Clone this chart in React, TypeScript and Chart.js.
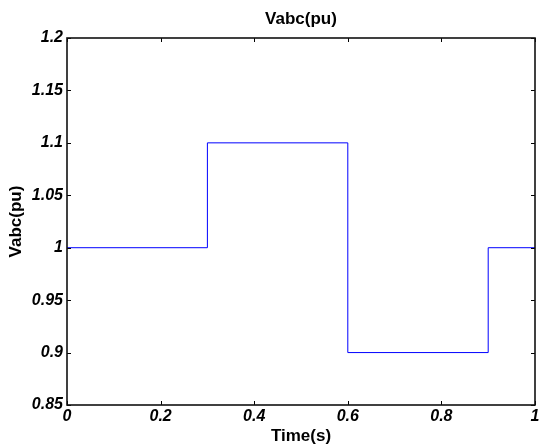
import React, { useEffect, useRef } from "react";
import { Chart, registerables } from "chart.js";

Chart.register(...registerables);

const timeS = [0, 0.3, 0.6, 0.9, 1];
const vabcPu = [1, 1.1, 0.9, 1, 1];
const xTickValues = [0, 0.2, 0.4, 0.6, 0.8, 1];
const yTickValues = [0.85, 0.9, 0.95, 1, 1.05, 1.1, 1.15, 1.2];
const chartTitle = "Vabc(pu)";
const xAxisTitle = "Time(s)";
const yAxisTitle = "Vabc(pu)";

const FONT = "'Liberation Sans', Arial, Helvetica, sans-serif";
const fmt = (v: number) => String(Number(Number(v).toFixed(2)));

const framePlugin = {
  id: "matlabFrame",
  afterDatasetsDraw(chart: any) {
    const { ctx, chartArea: a, scales } = chart;
    ctx.save();
    ctx.strokeStyle = "#000";
    ctx.lineWidth = 1;
    ctx.beginPath();
    for (const v of xTickValues) {
      const px = Math.round(scales.x.getPixelForValue(v)) + 0.5;
      ctx.moveTo(px, a.bottom);
      ctx.lineTo(px, a.bottom - 4);
      ctx.moveTo(px, a.top);
      ctx.lineTo(px, a.top + 4);
    }
    for (const v of yTickValues) {
      const py = Math.round(scales.y.getPixelForValue(v)) + 0.5;
      ctx.moveTo(a.left, py);
      ctx.lineTo(a.left + 4, py);
      ctx.moveTo(a.right, py);
      ctx.lineTo(a.right - 4, py);
    }
    ctx.stroke();
    ctx.strokeStyle = "#111";
    ctx.lineWidth = 1.6;
    ctx.strokeRect(a.left, a.top, a.right - a.left, a.bottom - a.top);
    ctx.restore();
  },
};

export default function App() {
  const canvasRef = useRef<HTMLCanvasElement | null>(null);

  useEffect(() => {
    document.body.style.margin = "0";
    const canvas = canvasRef.current;
    if (!canvas) return;
    const chart = new Chart(canvas, {
      type: "line",
      data: {
        datasets: [
          {
            label: chartTitle,
            data: timeS.map((t, i) => ({ x: t, y: vabcPu[i] })),
            borderColor: "#0000ff",
            borderWidth: 1,
            pointRadius: 0,
            stepped: "before",
            fill: false,
          },
        ],
      },
      options: {
        responsive: false,
        animation: false,
        devicePixelRatio: 1,
        layout: { padding: { left: 0, right: 4, top: 0, bottom: 0 } },
        plugins: {
          legend: { display: false },
          tooltip: { enabled: false },
          title: {
            display: true,
            fullSize: false,
            text: chartTitle,
            color: "#000",
            font: { family: FONT, size: 17, weight: "bold" },
            padding: { top: 9, bottom: 8.6 },
          },
        },
        scales: {
          x: {
            type: "linear",
            min: 0,
            max: 1,
            grid: { display: false, drawTicks: false },
            border: { display: false },
            afterBuildTicks: (s: any) => {
              s.ticks = xTickValues.map((v) => ({ value: v }));
            },
            afterFit: (s: any) => {
              s.height = 42;
              s.paddingLeft = 0;
              s.paddingRight = 0;
            },
            ticks: {
              color: "#000",
              padding: 2,
              maxRotation: 0,
              autoSkip: false,
              font: { family: FONT, size: 16, weight: "bold", style: "italic" },
              callback: (v: any) => fmt(v),
            },
            title: {
              display: true,
              text: xAxisTitle,
              color: "#000",
              font: { family: FONT, size: 17, weight: "bold" },
              padding: { top: 0, bottom: 0 },
            },
          },
          y: {
            type: "linear",
            min: 0.85,
            max: 1.2,
            grid: { display: false, drawTicks: false },
            border: { display: false },
            afterBuildTicks: (s: any) => {
              s.ticks = yTickValues.map((v) => ({ value: v }));
            },
            afterFit: (s: any) => {
              s.width = 67;
              s.paddingTop = 0;
              s.paddingBottom = 0;
            },
            ticks: {
              color: "#000",
              padding: 4,
              autoSkip: false,
              font: { family: FONT, size: 16, weight: "bold", style: "italic" },
              callback: (v: any) => fmt(v),
            },
            title: {
              display: true,
              text: yAxisTitle,
              color: "#000",
              font: { family: FONT, size: 17, weight: "bold" },
              padding: { top: 6, bottom: 0 },
            },
          },
        },
      },
      plugins: [framePlugin],
    } as any);
    return () => chart.destroy();
  }, []);

  return (
    <div style={{ position: "fixed", left: 0, top: 0, width: 539, height: 447, background: "#fff" }}>
      <canvas ref={canvasRef} width={539} height={447} style={{ display: "block" }} />
    </div>
  );
}
